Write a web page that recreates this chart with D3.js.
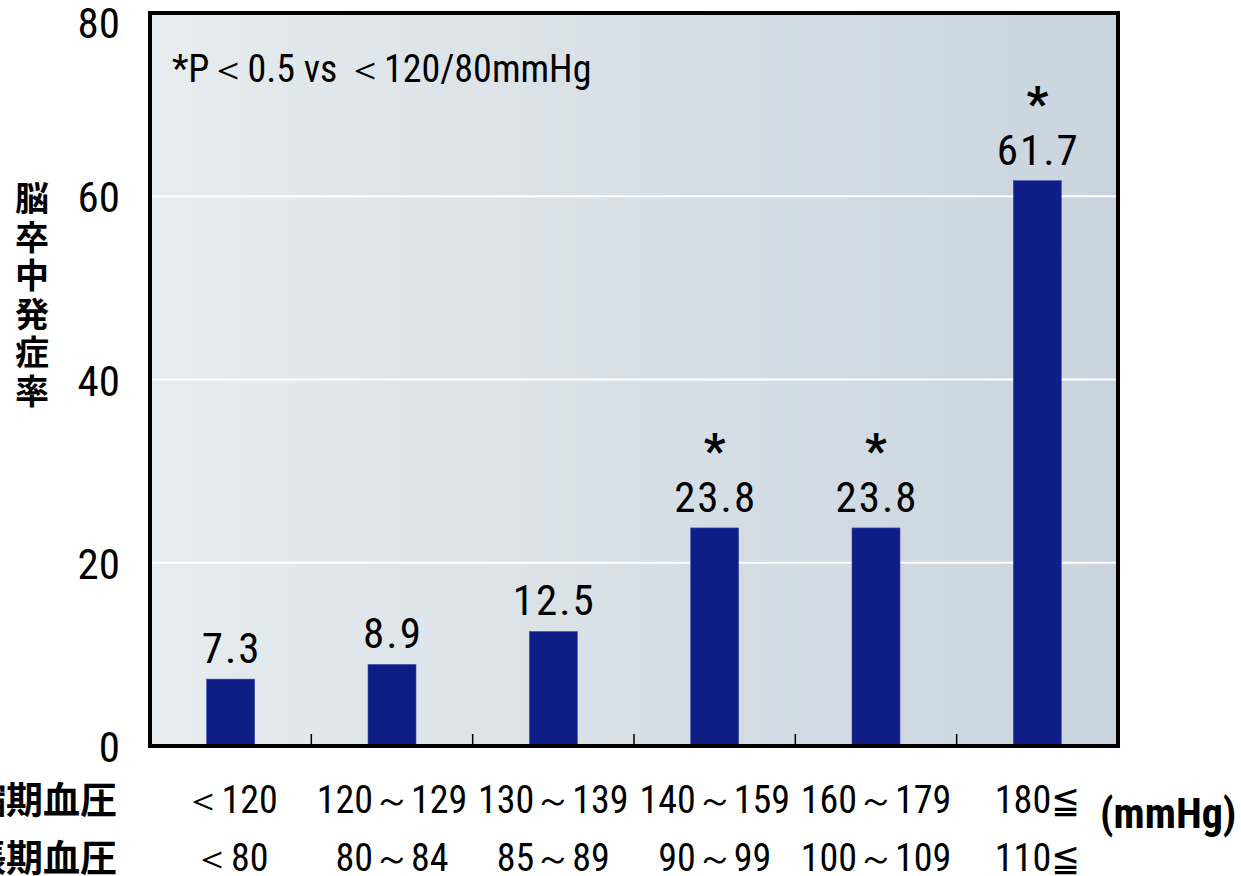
<!DOCTYPE html>
<html><head><meta charset="utf-8">
<script src="https://cdn.jsdelivr.net/npm/d3@7"></script>
<style>
body{margin:0;background:#fff;}
svg{display:block;}
.num{font-family:"Liberation Sans Narrow","Roboto Condensed","DejaVu Sans Condensed","Liberation Sans",sans-serif;}
.jp{font-family:"Noto Sans CJK JP",sans-serif;}
</style></head>
<body>
<svg id="c" width="1241" height="876"></svg>
<script>
const systolic = ["＜120","120～129","130～139","140～159","160～179","180≦"];
const diastolic = ["＜80","80～84","85～89","90～99","100～109","110≦"];
const values = [7.3, 8.9, 12.5, 23.8, 23.8, 61.7];
const significant = [false, false, false, true, true, true];
const yTicks = [0, 20, 40, 60, 80];
const yLabel = "脳卒中発症率";
const rowLabels = ["収縮期血圧", "拡張期血圧"];
const note = "*P＜0.5 vs ＜120/80mmHg";
const unit = "(mmHg)";

const svg = d3.select("#c");
const L = 150, R = 1118, T = 13, B = 746;

const defs = svg.append("defs");
const grad = defs.append("linearGradient").attr("id","bg").attr("x1","0").attr("x2","1").attr("y1","0").attr("y2","0");
grad.append("stop").attr("offset","0").attr("stop-color","#e6ecef");
grad.append("stop").attr("offset","1").attr("stop-color","#c9d4de");

const xb = d3.scaleBand().domain(d3.range(values.length)).range([L, R]);
const y = d3.scaleLinear().domain([0, 80]).range([B, T]);
const cx = i => xb(i) + xb.bandwidth()/2;

svg.append("rect").attr("x",L).attr("y",T).attr("width",R-L).attr("height",B-T).attr("fill","url(#bg)");

// grid
svg.append("g").selectAll("line").data(yTicks.filter(d=>d>0&&d<80)).join("line")
  .attr("x1",L).attr("x2",R).attr("y1",d=>y(d)).attr("y2",d=>y(d))
  .attr("stroke","#fff").attr("stroke-width",2);

// bars
svg.append("g").selectAll("rect").data(values).join("rect")
  .attr("x",(d,i)=>cx(i)-24).attr("width",48)
  .attr("y",d=>y(d)).attr("height",d=>B-y(d))
  .attr("fill","#0f1d86").attr("stroke","#3a4cb0").attr("stroke-width",0.6);

// category ticks
svg.append("g").selectAll("line").data(d3.range(1,values.length)).join("line")
  .attr("x1",i=>xb(i)).attr("x2",i=>xb(i)).attr("y1",B).attr("y2",B-12)
  .attr("stroke","#000").attr("stroke-width",1.5);

// border
svg.append("rect").attr("x",L).attr("y",T).attr("width",R-L).attr("height",B-T)
  .attr("fill","none").attr("stroke","#000").attr("stroke-width",4);

// y tick labels
svg.append("g").selectAll("text").data(yTicks).join("text").attr("class","num")
  .attr("x",120).attr("y",d=>Math.max(y(d)+16, 38)).attr("text-anchor","end")
  .attr("font-size",43).attr("fill","#000").text(d=>d);

// value labels
svg.append("g").selectAll("text").data(values).join("text").attr("class","num")
  .attr("x",(d,i)=>cx(i)+1).attr("y",d=>y(d)-16)
  .attr("text-anchor","middle").attr("font-size",43).attr("letter-spacing",2)
  .attr("fill","#000").text(d=>d.toFixed(1));

// stars
svg.append("g").selectAll("text").data(values.map((v,i)=>({v,i})).filter(d=>significant[d.i])).join("text")
  .attr("class","num").attr("x",d=>cx(d.i)).attr("y",d=>y(d.v)-61)
  .attr("text-anchor","middle").attr("font-size",48).attr("font-weight","bold").attr("fill","#000").text("*");

// note
svg.append("text").attr("class","num").attr("x",172).attr("y",82).attr("font-size",38).attr("fill","#000").text(note);

// y label
svg.append("g").selectAll("text").data(Array.from(yLabel)).join("text").attr("class","jp")
  .attr("x",32).attr("y",(d,i)=>211+i*38.5).attr("text-anchor","middle")
  .attr("font-size",34).attr("font-weight","bold").attr("fill","#000").text(d=>d);

// x labels
svg.append("g").selectAll("text").data(systolic).join("text").attr("class","num")
  .attr("x",(d,i)=>cx(i)).attr("y",813).attr("text-anchor","middle")
  .attr("font-size",38).attr("fill","#000").text(d=>d);
svg.append("g").selectAll("text").data(diastolic).join("text").attr("class","num")
  .attr("x",(d,i)=>cx(i)).attr("y",871).attr("text-anchor","middle")
  .attr("font-size",38).attr("fill","#000").text(d=>d);

svg.append("g").selectAll("text").data(rowLabels).join("text").attr("class","jp")
  .attr("x",117).attr("y",(d,i)=>814+i*58).attr("text-anchor","end")
  .attr("font-size",37).attr("font-weight","bold").attr("fill","#000").text(d=>d);

svg.append("text").attr("class","num").attr("x",1100).attr("y",828).attr("font-size",42).attr("font-weight","bold").attr("fill","#000").text(unit);
</script>
</body></html>
